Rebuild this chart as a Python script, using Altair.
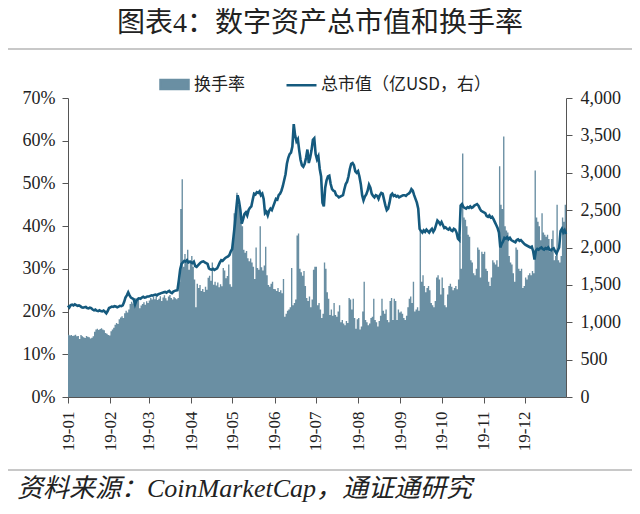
import altair as alt
import pandas as pd

TITLE = "图表4：数字资产总市值和换手率"
SOURCE = "资料来源：CoinMarketCap，通证通研究"
S_TURN = "换手率"
S_MCAP = "总市值（亿USD，右）"
AREA_C = "#6a8fa3"
LINE_C = "#155a7e"

# daily turnover (%), by month
turn_jan = [14.6,14.4,14.5,14.3,14.4,14.6,14.2,14.3,13.6,14.5,14.2,14.0,13.8,14.3,14.1,14.0,13.7,13.9,14.2,15.3,15.8,16.0,15.7,15.9,16.1,15.8,15.6,15.0,14.8,14.5,14.4]
turn_feb = [15.4,15.8,16.2,16.9,17.3,17.1,18.2,18.6,18.9,18.5,19.6,20.2,19.8,20.5,21.8,22.3,21.9,22.6,23.1,22.8,23.4,20.8,21.4,21.8,22.2,21.6,22.4,22.0]
turn_mar = [22.6,23.2,22.8,23.4,22.9,23.5,22.7,23.0,23.6,22.5,23.3,23.8,23.1,22.6,23.5,23.9,23.2,22.8,23.4,23.1,22.9,23.2,27.0,44.0,51.0,30.5,33.5,31.5,34.5,29.8,32.0]
turn_apr = [33.0,30.5,27.5,21.0,26.5,25.5,26.2,24.8,25.3,24.6,25.8,25.1,27.9,28.4,27.2,31.5,26.3,27.0,26.1,26.8,25.7,26.4,25.9,30.2,29.6,27.8,28.3,31.0,26.4,25.8]
turn_may = [36.0,43.0,42.5,47.8,45.0,44.5,41.0,40.0,34.5,33.8,34.2,32.5,31.8,32.4,31.5,30.5,27.6,35.0,30.2,29.8,40.0,30.4,29.6,30.8,35.2,28.5,26.2,25.8,26.5,27.0,25.3]
turn_jun = [25.2,24.8,25.5,24.6,25.0,24.3,27.6,18.8,19.5,20.2,20.5,21.0,30.2,21.5,22.0,22.8,37.8,38.3,30.0,29.2,28.4,29.5,26.0,23.2,22.5,23.5,21.0,22.8,29.8,30.5]
turn_jul = [30.5,21.5,22.0,20.5,18.5,19.5,31.5,30.0,24.5,23.0,19.2,20.5,19.0,22.0,19.2,18.8,20.0,21.5,17.5,18.0,17.2,16.8,17.8,17.3,23.2,22.8,20.5,23.0,18.5,16.0,18.2]
turn_aug = [18.5,15.8,16.5,20.0,27.0,18.0,17.5,16.8,17.2,18.5,18.8,23.0,18.0,17.5,16.5,17.8,19.0,23.0,20.2,19.5,20.5,18.0,17.5,22.5,23.2,18.0,23.0,22.5,18.0,20.5,19.8]
turn_sep = [20.0,19.5,18.5,18.0,19.0,21.0,23.0,23.5,22.0,27.0,20.0,20.5,21.0,20.2,39.0,27.0,28.5,26.0,24.5,25.5,26.0,25.0,22.0,21.5,21.0,22.5,28.0,28.5,27.5,24.0]
turn_oct = [28.0,25.5,21.5,21.0,24.0,26.0,26.5,25.8,25.0,25.5,26.0,25.2,27.5,37.6,30.0,57.0,42.0,41.5,40.0,38.0,37.5,32.0,31.5,29.0,28.5,30.0,35.0,34.5,28.0,34.0,33.5]
turn_nov = [34.0,30.0,29.5,27.0,26.0,28.0,32.0,31.5,31.0,32.0,30.5,54.0,45.0,44.0,61.0,40.0,39.0,38.5,33.0,31.5,31.0,29.0,27.0,35.0,34.5,30.0,29.5,30.0,25.5,26.0]
turn_dec = [28.0,27.5,28.5,29.0,28.5,29.5,29.0,53.0,42.0,41.0,40.0,36.7,43.0,38.5,38.0,37.5,38.0,37.0,34.0,37.0,39.0,32.0,33.0,45.0,32.0,31.5,33.0,42.0,41.0,45.0,43.0]

# daily total market cap (100M USD), by month
mcap_jan = [1225,1200,1230,1235,1225,1240,1230,1220,1225,1215,1200,1195,1200,1205,1190,1185,1195,1190,1170,1160,1170,1155,1150,1160,1150,1145,1155,1140,1120,1150,1190]
mcap_feb = [1200,1210,1205,1215,1210,1200,1210,1220,1215,1225,1270,1330,1360,1400,1360,1330,1320,1310,1240,1290,1310,1320,1315,1330,1340,1330,1335,1345]
mcap_mar = [1345,1350,1360,1355,1365,1370,1360,1375,1380,1390,1395,1400,1405,1395,1410,1420,1400,1390,1410,1420,1425,1430,1560,1710,1780,1800,1820,1810,1830,1800,1810]
mcap_apr = [1800,1790,1810,1750,1740,1760,1780,1800,1810,1815,1800,1790,1780,1720,1710,1705,1715,1700,1710,1720,1760,1800,1830,1820,1840,1860,1870,1880,1900,1950]
mcap_may = [1980,2150,2320,2520,2700,2620,2500,2320,2380,2450,2470,2430,2500,2530,2550,2640,2720,2710,2740,2730,2750,2700,2720,2650,2460,2480,2430,2490,2520,2500,2550]
mcap_jun = [2600,2650,2640,2700,2720,2760,2820,2900,2980,3120,3200,3250,3270,3350,3650,3500,3420,3450,3300,3170,3100,3080,3120,3200,3310,3130,3200,3300,3440,3460]
mcap_jul = [3250,3180,3220,3050,2950,2600,2550,2800,2900,2950,2960,2850,2780,2760,2750,2700,2690,2670,2680,2690,2700,2780,2850,2880,2950,3050,3120,3130,3100,3020,3000]
mcap_aug = [3020,2950,2850,2700,2630,2680,2710,2760,2840,2800,2720,2690,2670,2700,2690,2650,2700,2730,2720,2640,2560,2500,2520,2600,2700,2720,2690,2700,2680,2690,2670]
mcap_sep = [2680,2690,2700,2700,2690,2710,2720,2740,2780,2760,2700,2650,2600,2520,2250,2220,2200,2230,2210,2240,2220,2200,2230,2250,2210,2240,2300,2360,2340,2310]
mcap_oct = [2340,2300,2260,2270,2250,2240,2260,2230,2220,2250,2240,2200,2120,2100,2560,2580,2540,2530,2520,2540,2530,2550,2530,2540,2560,2570,2580,2560,2520,2490,2480]
mcap_nov = [2470,2460,2420,2410,2430,2400,2410,2380,2340,2300,2260,2200,2000,2050,2080,2130,2120,2140,2110,2130,2100,2090,2080,2070,2100,2110,2090,2100,2080,2060]
mcap_dec = [2040,2030,2020,2010,2000,2010,1950,1840,1960,1980,1970,1990,2000,1980,1970,1990,1980,2000,1970,1960,1980,1990,1950,1920,1960,2000,2220,2250,2200,2230,2180]

turnover = (turn_jan + turn_feb + turn_mar + turn_apr + turn_may + turn_jun +
            turn_jul + turn_aug + turn_sep + turn_oct + turn_nov + turn_dec)
mcap = (mcap_jan + mcap_feb + mcap_mar + mcap_apr + mcap_may + mcap_jun +
        mcap_jul + mcap_aug + mcap_sep + mcap_oct + mcap_nov + mcap_dec)
dates = pd.date_range("2019-01-01", "2019-12-31", freq="D").strftime("%Y-%m-%d")

df = pd.DataFrame({"date": list(dates), "turnover": turnover, "mcap": mcap})
df["s_turn"] = S_TURN
df["s_mcap"] = S_MCAP

NUMF = "'Liberation Serif', 'DejaVu Serif', serif"
SERIF = "'Liberation Serif', 'Noto Sans CJK SC', serif"
CJK = "Noto Sans CJK SC"

month_ticks = [alt.DateTime(year=2019, month=m, date=1, utc=True) for m in range(1, 13)]
x_enc = alt.X(
    "date:T",
    scale=alt.Scale(type="utc", domain=[alt.DateTime(year=2019, month=1, date=1, utc=True),
                                        alt.DateTime(year=2019, month=12, date=31, utc=True)]),
    axis=alt.Axis(values=month_ticks, labelExpr="utcFormat(datum.value, '%y-%m')",
                  labelAngle=270, title=None, tickSize=6, labelPadding=8,
                  labelFont=NUMF, labelFontSize=17),
)

color_scale = alt.Scale(domain=[S_TURN, S_MCAP], range=[AREA_C, LINE_C])
shape_expr = ("datum.value === '" + S_TURN + "' ? 'M-2.8,-0.9H2.8V0.9H-2.8Z' : 'M-3,0H3'")
legend = alt.Legend(
    title=None, orient="none", legendX=98, legendY=-22, direction="horizontal",
    symbolType={"expr": shape_expr}, symbolSize=100, symbolStrokeWidth=2.5,
    labelFont=CJK, labelFontSize=17, labelColor="#222", labelOffset=11, columnPadding=36,
    labelLimit=400,
)

base = alt.Chart(df)

area = base.mark_area(interpolate="step-after", opacity=1).encode(
    x=x_enc,
    y=alt.Y("turnover:Q", scale=alt.Scale(domain=[0, 70]),
            axis=alt.Axis(values=list(range(0, 71, 10)), labelExpr="datum.value + '%'",
                          title=None, orient="left", tickSize=6, labelPadding=7,
                          labelFont=NUMF, labelFontSize=18)),
    color=alt.Color("s_turn:N", scale=color_scale, legend=legend),
)

line = base.mark_line(strokeWidth=2.6).encode(
    x=x_enc,
    y=alt.Y("mcap:Q", scale=alt.Scale(domain=[0, 4000]),
            axis=alt.Axis(values=list(range(0, 4001, 500)), labelExpr="format(datum.value, ',')",
                          title=None, orient="right", tickSize=6, labelPadding=8,
                          labelFont=NUMF, labelFontSize=18)),
    color=alt.Color("s_mcap:N", scale=color_scale, legend=legend),
)

one = alt.Data(values=[{"k": 1}])
title_txt = alt.Chart(one).mark_text(text=TITLE, font=SERIF, fontSize=28, color="#222",
                                     align="center", baseline="middle").encode(
    x=alt.value(252), y=alt.value(-74))
top_rule = alt.Chart(one).mark_rule(color="#c8c8c8", strokeWidth=2).encode(
    x=alt.value(-68), x2=alt.value(572), y=alt.value(-49))
bottom_rule = alt.Chart(one).mark_rule(color="#c8c8c8", strokeWidth=2).encode(
    x=alt.value(-68), x2=alt.value(572), y=alt.value(372))
source_txt = alt.Chart(one).mark_text(text=SOURCE, font=SERIF, fontSize=26, fontStyle="italic",
                                      color="#222", align="left", baseline="middle").encode(
    x=alt.value(-51), y=alt.value(391))

chart = alt.layer(area, line, title_txt, top_rule, bottom_rule, source_txt).resolve_scale(
    y="independent"
).properties(
    width=498, height=299,
    padding={"left": 60, "top": 90, "right": 66, "bottom": 108},
    autosize=alt.AutoSizeParams(type="none"),
).configure_view(stroke=None).configure_axis(
    grid=False, domainColor="#555", tickColor="#555", labelColor="#222",
    labelFont=NUMF,
)

chart.save("out.html", embed_options={"renderer": "svg", "actions": False})
